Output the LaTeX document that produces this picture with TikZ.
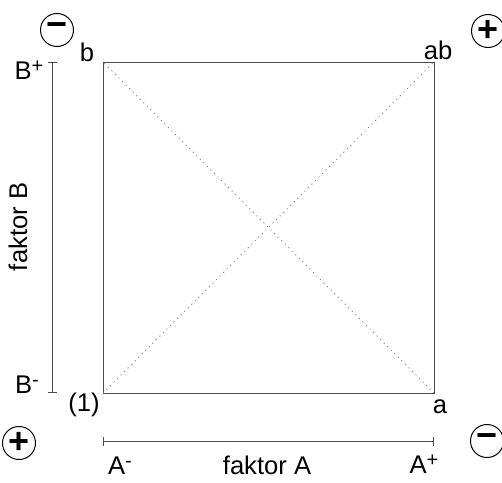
\documentclass[tikz,border=0pt]{standalone}
\usepackage{fontspec}
\setmainfont{Liberation Sans}
\usetikzlibrary{arrows.meta}
\newcommand{\sgnup}[1]{\raisebox{0.55ex}{\fontsize{10}{10}\selectfont #1}}
\tikzset{
  sign/.style={draw,circle,line width=0.5pt,minimum size=16.5pt,inner sep=0pt,font=\fontsize{18}{18}\selectfont\bfseries},
  lbl/.style={inner sep=0pt,font=\fontsize{12.8}{15}\selectfont},
  axis/.style={gray!60!black,line width=0.5pt,{Bar[width=4.5pt]}-{Bar[width=4.5pt]}}
}
\begin{document}
\begin{tikzpicture}[x=0.5pt,y=-0.5pt]
  \useasboundingbox (0,0) rectangle (502,482);
  % square of the design
  \coordinate (c1) at (103,393);
  \coordinate (ca) at (434,393);
  \coordinate (cb) at (103,62);
  \coordinate (cab) at (434,62);
  \draw[gray!60!black,line width=0.5pt] (c1) -- (ca) -- (cab) -- (cb) -- cycle;
  \draw[gray,dotted,line width=0.5pt] (c1) -- (cab);
  \draw[gray,dotted,line width=0.5pt] (ca) -- (cb);
  % corner labels
  \node[lbl] (t1) at (84,405) {(1)};
  \node[lbl] (ta) at (440,407) {a};
  \node[lbl] (tb) at (87,52) {b};
  \node[lbl] (tab) at (438,50) {ab};
  % signs
  \node[sign] (s1) at (19,443) {+};
  \node[sign] (sa) at (487,441) {−};
  \node[sign] (sb) at (57,30) {−};
  \node[sign] (sab) at (488,31) {+};
  % factor axes
  \coordinate (bmin) at (52,393);
  \coordinate (bmax) at (52,62);
  \coordinate (amin) at (103,441);
  \coordinate (amax) at (434,441);
  \draw[axis] (bmin) -- (bmax);
  \draw[axis] (amin) -- (amax);
  \node[lbl] (bp) at (29,70) {B\sgnup{+}};
  \node[lbl] (bm) at (27,385) {B\sgnup{-}};
  \node[lbl] (ap) at (424,464) {A\sgnup{+}};
  \node[lbl] (am) at (120,466) {A\sgnup{-}};
  \node[lbl,rotate=90] (fb) at (18,227) {faktor B};
  \node[lbl] (fa) at (267,465) {faktor A};
\end{tikzpicture}
\end{document}
